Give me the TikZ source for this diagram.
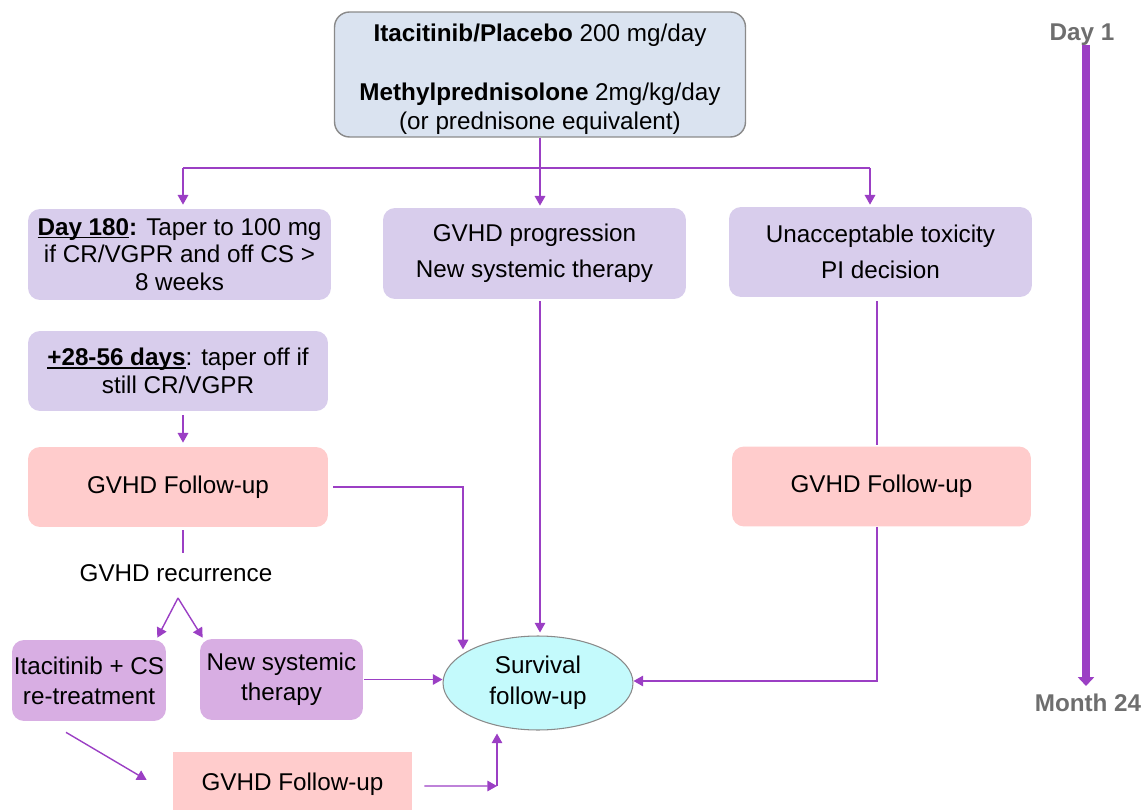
\documentclass[tikz,border=0pt]{standalone}
\usepackage{fontspec}
\setmainfont{Liberation Sans}
\usetikzlibrary{arrows.meta,shapes.geometric}
\definecolor{flowline}{HTML}{9B3FC4}
\definecolor{lilacfill}{HTML}{D8CDEC}
\definecolor{violetfill}{HTML}{D8AEE3}
\definecolor{pinkfill}{HTML}{FFCCCC}
\definecolor{startfill}{HTML}{DAE3F0}
\definecolor{survfill}{HTML}{C4FAFC}
\definecolor{edgegray}{HTML}{8A8A8A}
\definecolor{milegray}{HTML}{6E6E6E}
\newcommand{\undl}[1]{\setbox0\hbox{#1}\rlap{\rule[-1.6pt]{\wd0}{0.9pt}}\box0}

\begin{document}
\begin{tikzpicture}[x=0.02cm,y=-0.02cm,
  font=\fontsize{13.8}{15.6}\selectfont,
  box/.style={rounded corners=0.24cm, align=center, inner sep=0pt},
  startbox/.style={box, rounded corners=0.3cm, draw=edgegray, line width=0.8pt, fill=startfill},
  lilac/.style={box, fill=lilacfill},
  violetbox/.style={box, fill=violetfill},
  pinkbox/.style={box, fill=pinkfill},
  milestone/.style={font=\fontsize{13.8}{15.6}\selectfont\bfseries, text=milegray},
  link/.style={draw=flowline, line width=0.8pt},
  arr/.style={link, -{Triangle[length=5.5pt,width=6pt]}}]
\useasboundingbox (0,0) rectangle (1145,810);

\node[startbox, minimum width=8.22cm, minimum height=2.5cm] (start) at (540,74.5) {};
\node[align=center, inner sep=0pt] (starttext) at (540,79.5)
  {\textbf{Itacitinib/Placebo} 200 mg/day\\[18pt]\textbf{Methylprednisolone} 2mg/kg/day\\[1.1pt](or prednisone equivalent)};
\node[lilac, minimum width=6.06cm, minimum height=1.82cm] (day180) at (179.5,254.5)
  {\textbf{\undl{Day 180}:} Taper to 100 mg\\if CR/VGPR and off CS >\\8 weeks};
\node[lilac, minimum width=6cm, minimum height=1.6cm] (taper) at (178,371)
  {\textbf{\undl{+28-56 days}}: taper off if\\still CR/VGPR};
\node[pinkbox, minimum width=6cm, minimum height=1.6cm] (fu1) at (178,487) {GVHD Follow-up};
\node (recur) at (176,573) {GVHD recurrence};
\node[violetbox, minimum width=3.08cm, minimum height=1.62cm] (retreat) at (89,680.5)
  {Itacitinib + CS\\[1.6pt]re-treatment};
\node[violetbox, minimum width=3.26cm, minimum height=1.62cm] (newsys) at (281.5,679.5)
  {New systemic\\[1.6pt]therapy};
\node[pinkbox, rounded corners=0pt, minimum width=4.78cm, minimum height=1.28cm] (fu2) at (292.5,784)
  {GVHD Follow-up};
\node[ellipse, draw=edgegray, line width=0.6pt, fill=survfill, align=center, inner sep=0pt,
  minimum width=3.8cm, minimum height=1.88cm] (surv) at (538,683) {Survival\\[1.8pt]follow-up};
\node[lilac, minimum width=6.06cm, minimum height=1.82cm] (prog) at (534.5,253.5)
  {GVHD progression\\[4.9pt]New systemic therapy};
\node[lilac, minimum width=6.06cm, minimum height=1.8cm] (tox) at (880.5,252)
  {Unacceptable toxicity\\[4.9pt]PI decision};
\node[pinkbox, minimum width=5.98cm, minimum height=1.6cm] (fu3) at (881.5,486.5) {GVHD Follow-up};
\node[milestone] (day1) at (1082,35) {Day 1};
\node[milestone] (month24) at (1088,703) {Month 24};

\coordinate (split) at (540,168);
\coordinate (splitL) at (183,168);
\coordinate (splitR) at (870,168);
\coordinate (bend1) at (463,487);
\coordinate (fork) at (178,598);
\coordinate (bend2) at (497,786);
\coordinate (bend3) at (877,681);
\coordinate (tl1) at (1086,45);
\coordinate (tl2) at (1086,686);

\draw[link] (start.south) -- (split);
\draw[link] (splitL) -- (splitR);
\draw[arr] (splitL) -- ([yshift=0.08cm]splitL |- day180.north);
\draw[arr] (split) -- ([yshift=0.04cm]split |- prog.north);
\draw[arr] (splitR) -- ([yshift=0.04cm]splitR |- tox.north);
\draw[arr, shorten <=0.08cm, shorten >=0.08cm] ([xshift=0.1cm]taper.south) -- ([xshift=0.1cm]fu1.north);
\draw[arr] ([xshift=0.1cm]fu1.east) -- (bend1) -- (bend1 |- surv.north west);
\draw[link] ([xshift=0.1cm,yshift=-0.06cm]fu1.south) -- ([xshift=0.1cm,yshift=0.1cm]fu1.south |- recur.north);
\draw[arr] (fork) -- ([xshift=-0.18cm,yshift=0.04cm]retreat.north east);
\draw[arr] (fork) -- ([xshift=0.06cm,yshift=0.02cm]newsys.north west);
\draw[arr] ([xshift=0.02cm]newsys.east) -- (newsys.east -| surv.west);
\draw[arr] ([xshift=-0.46cm,yshift=-0.22cm]retreat.south) -- ([xshift=-0.52cm,yshift=0.08cm]fu2.west);
\draw[arr] ([xshift=0.24cm,yshift=-0.04cm]fu2.east) -- (bend2);
\draw[arr] (bend2) -- ([yshift=-0.06cm]bend2 |- surv.south);
\draw[arr] ([yshift=-0.04cm]split |- prog.south) -- ([yshift=0.06cm]split |- surv.north);
\draw[link] ([yshift=-0.08cm]bend3 |- tox.south) -- ([yshift=0.02cm]bend3 |- fu3.north);
\draw[arr] (bend3 |- fu3.south) -- (bend3) -- (bend3 -| surv.east);
\draw[draw=flowline, line width=4.5pt, -{Triangle[length=5pt,width=9pt]}] (tl1) -- (tl2);
\end{tikzpicture}
\end{document}
